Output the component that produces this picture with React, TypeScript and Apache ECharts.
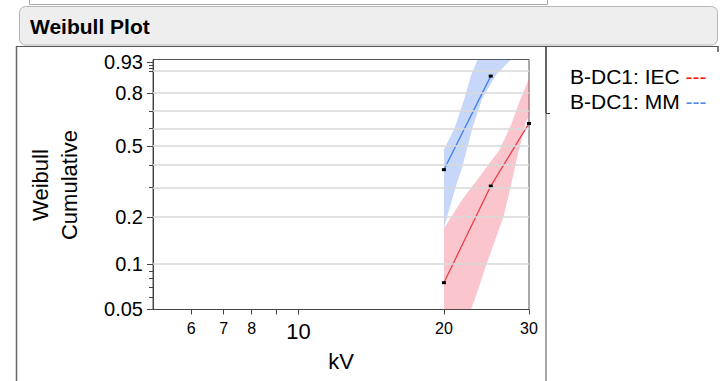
import React, { useEffect, useRef } from 'react';
import * as echarts from 'echarts';

// Weibull probability transform and log10 for the kV axis
const weib = (p: number) => Math.log(-Math.log(1 - p));
const lg = (v: number) => Math.log10(v);

// Fitted points (kV, cumulative probability)
const iecKv = [20, 25, 30];
const iecProb = [0.075, 0.306, 0.63];
const mmKv = [20, 25];
const mmProb = [0.378, 0.88];

// Confidence bands (polygon outline, kV and probability)
const iecBandKv = [20, 20, 20.55, 21.86, 23.36, 24.49, 26.06, 27.54, 28.65, 30, 30, 29.58, 28.42, 27.54, 26.56, 24.46, 23.32, 22.75];
const iecBandProb = [0.0495, 0.17, 0.193, 0.257, 0.327, 0.39, 0.478, 0.621, 0.754, 0.87, 0.674, 0.64, 0.451, 0.31, 0.2, 0.098, 0.0617, 0.0495];
const mmBandKv = [20, 20, 21.04, 22.07, 22.78, 23.5, 27.54, 25.65, 24.03, 22.92, 22.24, 21.73, 21.21];
const mmBandProb = [0.17, 0.48, 0.603, 0.775, 0.885, 0.937, 0.937, 0.885, 0.775, 0.603, 0.468, 0.376, 0.31];

// Axis ticks
const yLabelProbs = [0.05, 0.1, 0.2, 0.5, 0.8, 0.93];
const yMinorProbs = [0.06, 0.07, 0.08, 0.09, 0.3, 0.4, 0.6, 0.7, 0.9, 0.91, 0.92];
const gridProbs = [0.1, 0.2, 0.3, 0.4, 0.5, 0.6, 0.7, 0.8, 0.9];
const xLabelKv = [6, 7, 8, 10, 20, 30];
const xTickKv = [6, 7, 8, 9, 10, 20, 30];
const xMinKv = 5;
const xMaxKv = 30;
const pMin = 0.0495;
const pMax = 0.937;

const legendNames = ['B-DC1: IEC', 'B-DC1: MM'];

const FONT = '"Liberation Sans", Arial, Helvetica, sans-serif';
const RED_LINE = '#e8404a';
const BLUE_LINE = '#3f7fe8';

function bandSeries(kv: number[], pr: number[], fill: string) {
  return {
    type: 'custom',
    clip: true,
    silent: true,
    z: 2,
    data: kv.map((k, i) => [lg(k), weib(pr[i])]),
    encode: { x: 0, y: 1 },
    renderItem: (params: any, api: any) => {
      if (params.dataIndex !== 0) return null;
      const pts = kv.map((k, i) => api.coord([lg(k), weib(pr[i])]));
      return { type: 'polygon', shape: { points: pts }, style: { fill } };
    },
  };
}

export default function App() {
  const ref = useRef<HTMLDivElement>(null);
  useEffect(() => {
    if (!ref.current) return;
    const chart = echarts.init(ref.current, undefined, { renderer: 'svg' });
    const yMin = weib(pMin);
    const yMax = weib(pMax);
    const option: any = {
      animation: false,
      backgroundColor: '#ffffff',
      textStyle: { fontFamily: FONT },
      grid: {
        left: 153,
        right: 196,
        top: 59.5,
        bottom: 71.5,
        show: true,
        borderColor: '#555',
        borderWidth: 1,
        backgroundColor: '#fff',
      },
      xAxis: [
        {
          type: 'value',
          min: lg(xMinKv),
          max: lg(xMaxKv),
          axisLine: { show: true, onZero: false, lineStyle: { color: '#444' } },
          axisTick: { show: true, customValues: xTickKv.map(lg), length: 5, lineStyle: { color: '#444' } },
          axisLabel: {
            customValues: xLabelKv.map(lg),
            margin: 11,
            fontSize: 16,
            color: '#000',
            formatter: (v: number) => {
              const k = Math.round(Math.pow(10, v));
              return k === 10 ? `{b|${k}}` : `{s|${k}}`;
            },
            rich: {
              s: { fontSize: 16, color: '#000', fontFamily: FONT },
              b: { fontSize: 22, color: '#000', fontFamily: FONT },
            },
          },
          splitLine: { show: false },
          name: 'kV',
          nameLocation: 'middle',
          nameGap: 41,
          nameTextStyle: { fontSize: 22, color: '#000', fontFamily: FONT },
        },
      ],
      yAxis: [
        {
          type: 'value',
          min: yMin,
          max: yMax,
          position: 'left',
          axisLine: { show: true, onZero: false, lineStyle: { color: '#444' } },
          axisTick: { show: true, customValues: yLabelProbs.map(weib), length: 6, lineStyle: { color: '#444' } },
          axisLabel: {
            customValues: yLabelProbs.map(weib),
            margin: 10,
            fontSize: 20,
            color: '#000',
            fontFamily: FONT,
            formatter: (v: number) => {
              let best = yLabelProbs[0];
              let bd = Infinity;
              for (const p of yLabelProbs) {
                const d = Math.abs(weib(p) - v);
                if (d < bd) { bd = d; best = p; }
              }
              return String(best);
            },
          },
          splitLine: { show: false },
        },
        {
          type: 'value',
          min: yMin,
          max: yMax,
          position: 'left',
          axisLine: { show: false },
          axisTick: { show: true, customValues: yMinorProbs.map(weib), length: 4, lineStyle: { color: '#444' } },
          axisLabel: { show: false },
          splitLine: { show: false },
        },
      ],
      graphic: [
        { type: 'polyline', shape: { points: [[29.5, 0], [29.5, 4.5], [547.5, 4.5], [547.5, 0]] }, style: { stroke: '#aaa', fill: 'none', lineWidth: 1 } },
        { type: 'rect', shape: { x: 19.5, y: 6.5, width: 698, height: 38.5, r: 6 }, style: { fill: '#eeeeee', stroke: '#b5b5b5', lineWidth: 1 } },
        { type: 'text', x: 30, y: 26, style: { text: 'Weibull Plot', font: `bold 21px ${FONT}`, fill: '#000', verticalAlign: 'middle', align: 'left' } },
        { type: 'line', shape: { x1: 16, y1: 46.5, x2: 718, y2: 46.5 }, style: { stroke: '#555', lineWidth: 1 } },
        { type: 'line', shape: { x1: 16.5, y1: 46, x2: 16.5, y2: 381 }, style: { stroke: '#666', lineWidth: 1.5 } },
        { type: 'line', shape: { x1: 546, y1: 46, x2: 546, y2: 113 }, style: { stroke: '#333', lineWidth: 1.5 } },
        { type: 'line', shape: { x1: 546, y1: 113, x2: 546, y2: 381 }, style: { stroke: '#888', lineWidth: 1.5 } },
        { type: 'line', shape: { x1: 546, y1: 113.5, x2: 550, y2: 113.5 }, style: { stroke: '#333', lineWidth: 1 } },
        { type: 'line', shape: { x1: 718, y1: 46, x2: 718, y2: 52 }, style: { stroke: '#555', lineWidth: 1.5 } },
        {
          type: 'text', x: 54.5, y: 185, rotation: Math.PI / 2,
          style: { text: 'Weibull\nCumulative', font: `22px ${FONT}`, lineHeight: 29, fill: '#000', align: 'center', verticalAlign: 'middle' },
        },
        {
          type: 'text', x: 570, y: 76,
          style: {
            text: `${legendNames[0]} {r|---}`, font: `21px ${FONT}`, fill: '#000', verticalAlign: 'middle', align: 'left',
            rich: { r: { fill: '#ff1a1a', font: `21px ${FONT}` } },
          },
        },
        {
          type: 'text', x: 570, y: 101,
          style: {
            text: `${legendNames[1]} {b|---}`, font: `21px ${FONT}`, fill: '#000', verticalAlign: 'middle', align: 'left',
            rich: { b: { fill: '#4d8fe8', font: `21px ${FONT}` } },
          },
        },
      ],
      series: [
        {
          type: 'line',
          data: [],
          z: 1,
          silent: true,
          markLine: {
            silent: true,
            symbol: ['none', 'none'],
            label: { show: false },
            lineStyle: { color: '#d9d9d9', width: 1.5, type: 'solid' },
            data: gridProbs.map((p) => ({ yAxis: weib(p) })),
          },
        },
        bandSeries(iecBandKv, iecBandProb, 'rgba(240, 90, 110, 0.35)'),
        bandSeries(mmBandKv, mmBandProb, 'rgba(80, 130, 240, 0.32)'),
        {
          name: legendNames[0],
          type: 'line',
          z: 3,
          data: iecKv.map((k, i) => [lg(k), weib(iecProb[i])]),
          lineStyle: { color: RED_LINE, width: 1.3 },
          symbol: 'rect',
          symbolSize: [4, 3],
          itemStyle: { color: '#000' },
        },
        {
          name: legendNames[1],
          type: 'line',
          z: 3,
          data: mmKv.map((k, i) => [lg(k), weib(mmProb[i])]),
          lineStyle: { color: BLUE_LINE, width: 1.3 },
          symbol: 'rect',
          symbolSize: [4, 3],
          itemStyle: { color: '#000' },
        },
      ],
    };
    chart.setOption(option);
    return () => chart.dispose();
  }, []);
  return <div ref={ref} style={{ position: 'fixed', left: 0, top: 0, width: 725, height: 381 }} />;
}
